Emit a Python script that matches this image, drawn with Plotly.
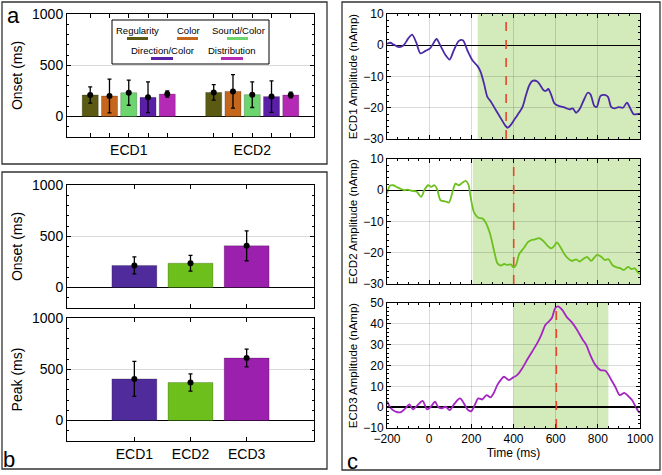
import plotly.graph_objects as go

W, H = 662, 475
FONT = "Liberation Sans, Arial, sans-serif"

# ---------------- data ----------------
a_groups = ["ECD1", "ECD2"]
a_conditions = ["Regularity", "Color", "Sound/Color", "Direction/Color", "Distribution"]
a_colors = ["#5b5a13", "#c4661b", "#6dd56d", "#5a1fa6", "#b52ab5"]
a_onset_ecd1 = [210, 200, 232, 187, 219]
a_err_ecd1 = [80, 165, 122, 150, 30]
a_onset_ecd2 = [235, 245, 213, 194, 210]
a_err_ecd2 = [75, 163, 125, 153, 28]

b_components = ["ECD1", "ECD2", "ECD3"]
b_colors = ["#4f2b9b", "#6dc01b", "#9b20ad"]
b_onset = [215, 237, 407]
b_onset_err = [83, 77, 146]
b_peak = [406, 371, 610]
b_peak_err = [171, 84, 87]

c_time_ecd1 = [-200, -184, -168, -144, -121, -100, -81, -62, -41, -17, 3, 19, 35, 54, 78,
               97, 117, 141, 160, 181, 205, 229, 244, 260, 276, 292, 316, 340, 359, 371,
               387, 403, 419, 443, 459, 475, 490, 511, 527, 543, 554, 565, 578, 594, 617,
               641, 665, 681, 697, 713, 733, 752, 765, 784, 795, 813, 832, 848, 863, 879,
               898, 919, 938, 954, 970, 990, 1000]
c_amp_ecd1 = [0.5, 0.8, 0.2, -0.6, 0, 2.1, 3.4, 1, -2.6, -1.8, -1.1, 0.5, 2, -0.2, -3.2,
              -4.6, -1.6, 1.4, 1.6, -1.6, -4.8, -6.6, -8.5, -12.2, -16.5, -18, -20.7, -23.4, -25.5, -26.4,
              -25.5, -23.9, -22.3, -19.7, -16, -12.8, -11.4, -11.5, -12.8, -14.4, -14.6, -14.0, -15.7, -18.6, -19.5,
              -19.9, -20.5, -20.2, -21.6, -20.5, -17.6, -15.2, -15.7, -19.5, -19.7, -16.2, -15.9, -16.5, -19.7, -20.2,
              -19.8, -20, -18.4, -20.2, -22.1, -22, -21.9]

c_time_ecd2 = [-200, -187, -171, -156, -137, -117, -102, -81, -60, -38, -21, -5, 10, 25, 38,
               54, 78, 94, 110, 125, 141, 157, 173, 186, 197, 213, 233, 252, 268, 289,
               308, 324, 340, 356, 371, 387, 400, 411, 427, 451, 467, 483, 502, 522, 541,
               562, 578, 594, 606, 625, 641, 657, 676, 697, 713, 729, 749, 768, 784, 797,
               816, 832, 851, 871, 890, 906, 924, 943, 959, 975, 990, 1000]
c_amp_ecd2 = [-1.1, 1.4, 1.6, 1.1, 0.5, 0, 0.2, -0.2, -0.4, -2.1, 0.3, 1.6, 1.1, 1.6, 0.3,
              -3.2, -3.6, -3.9, -0.7, 2.1, 1.6, 2.4, 3, 1.9, -2.3, -7.1, -8.8, -9, -10.3, -14,
              -19.4, -23.4, -24.1, -23.6, -23.9, -23.7, -24.7, -24.1, -20.4, -18.3, -16.7, -16, -15.7, -15.3, -16.2,
              -17.8, -18.6, -17.8, -16.7, -18.5, -20.4, -21.7, -22.6, -22.1, -22.8, -22.1, -21.3, -22.6, -21.5, -20.7,
              -21.3, -22.3, -22.1, -24.1, -24.7, -24.9, -25.5, -24.5, -25.2, -25, -26.3, -26.8]

c_time_ecd3 = [-200, -181, -156, -134, -113, -94, -77, -55, -31, -10, 8, 28, 42, 60, 78,
               97, 121, 146, 165, 184, 200, 216, 233, 252, 272, 291, 307, 323, 339, 355,
               378, 399, 417, 441, 464, 488, 512, 532, 551, 567, 582, 598, 611, 630, 654,
               677, 701, 727, 745, 764, 788, 812, 836, 860, 884, 904, 926, 947, 962, 978,
               994, 1000]
c_amp_ecd3 = [2.9, -0.6, -2.3, -2.4, -0.6, 1.3, -1.1, 1, 3, -1.1, 0.2, 2.6, 0.2, -0.6, 0.2,
              -1.4, 1.8, 4.2, 1.8, -1.4, -1.9, 1, 4.2, 3.7, 5.8, 4.7, 6.9, 10.6, 13, 14.6,
              13, 14.3, 15.4, 18.6, 22.6, 26.6, 30.6, 34.7, 39.5, 41.1, 42.8, 47.6, 48.4, 46.8, 43.1,
              40.7, 37.2, 32.6, 29.9, 25.1, 20.3, 17.8, 17.5, 13.8, 9.5, 5.8, 6.9, 5, 3.4, 0.5,
              -2.3, -2.7]

c_line_colors = ["#4b2aa6", "#6cc11c", "#a524c4"]
c_window_start = [230, 207, 400]
c_window_end = [1000, 1000, 850]
c_peak_time = [365, 401, 603]
c_yranges = [[-30, 10], [-30, 10], [-10, 50]]
c_ytitles = ["ECD1 Amplitude (nAmp)", "ECD2 Amplitude (nAmp)", "ECD3 Amplitude (nAmp)"]

# ---------------- helpers ----------------
def dx(x0, x1):
    return [x0 / W, x1 / W]

def dy(y0, y1):  # y0 top px, y1 bottom px
    return [1 - y1 / H, 1 - y0 / H]

fig = go.Figure()

# ---------------- panel a ----------------
offset = 0.156
bw = 0.13
a_vals = [a_onset_ecd1, a_onset_ecd2]
a_errs = [a_err_ecd1, a_err_ecd2]
a_tickvals, a_ticktext = [], []
for gi, g in enumerate(a_groups):
    for ci in range(len(a_conditions)):
        xpos = (gi + 1) + (ci - 2) * offset
        a_tickvals.append(xpos)
        a_ticktext.append(g if ci == 2 else "")
for ci, cond in enumerate(a_conditions):
    xs = [(gi + 1) + (ci - 2) * offset for gi in range(len(a_groups))]
    ys = [a_vals[gi][ci] for gi in range(len(a_groups))]
    es = [a_errs[gi][ci] for gi in range(len(a_groups))]
    fig.add_trace(go.Bar(x=xs, y=ys, width=bw, marker=dict(color=a_colors[ci],
                         line=dict(color="rgba(0,0,0,0.35)", width=0.6)),
                         xaxis="x", yaxis="y", showlegend=False))
    fig.add_trace(go.Scatter(x=xs, y=ys, mode="markers",
                             marker=dict(color="black", size=6),
                             error_y=dict(type="data", array=es, color="black", thickness=1.3, width=2),
                             xaxis="x", yaxis="y", showlegend=False))

# ---------------- panel b ----------------
bx = [1, 2, 3]
for (vals, errs, xa, ya) in [(b_onset, b_onset_err, "x2", "y2"), (b_peak, b_peak_err, "x3", "y3")]:
    fig.add_trace(go.Bar(x=bx, y=vals, width=0.8,
                         marker=dict(color=b_colors, line=dict(color="rgba(0,0,0,0.35)", width=0.6)),
                         xaxis=xa, yaxis=ya, showlegend=False))
    fig.add_trace(go.Scatter(x=bx, y=vals, mode="markers",
                             marker=dict(color="black", size=6),
                             error_y=dict(type="data", array=errs, color="black", thickness=1.3, width=2),
                             xaxis=xa, yaxis=ya, showlegend=False))

# ---------------- panel c ----------------
c_series = [(c_time_ecd1, c_amp_ecd1), (c_time_ecd2, c_amp_ecd2), (c_time_ecd3, c_amp_ecd3)]
shapes = []
for i, (t, v) in enumerate(c_series):
    xa, ya = "x%d" % (i + 4), "y%d" % (i + 4)
    fig.add_trace(go.Scatter(x=t, y=v, mode="lines", line=dict(color=c_line_colors[i], width=1.8, shape="spline", smoothing=0.8),
                             xaxis=xa, yaxis=ya, showlegend=False))
    shapes.append(dict(type="rect", xref=xa, yref=ya + " domain", x0=c_window_start[i], x1=c_window_end[i],
                       y0=0, y1=1, fillcolor="#d3eabb", line=dict(width=0), layer="below"))
    shapes.append(dict(type="line", xref=xa, yref=ya + " domain", x0=c_peak_time[i], x1=c_peak_time[i],
                       y0=0, y1=1, line=dict(color="#e8452c", width=1.6, dash="dash"), layer="above"))

# ---------------- axes ----------------
tickcommon = dict(showline=True, linecolor="black", linewidth=1, mirror="allticks", ticks="inside",
                  ticklen=4, tickcolor="black", automargin=False)

ab_y = dict(tickcommon, range=[-200, 1000], tickvals=[0, 500, 1000], tickfont=dict(size=14, color="black"),
            showgrid=True, gridcolor="#dadada", zeroline=True, zerolinecolor="black", zerolinewidth=1.5,
            minor=dict(ticks="inside", dtick=100, ticklen=2, tickcolor="black", showgrid=False))

layout_axes = {}
layout_axes["xaxis"] = dict(tickcommon, domain=dx(67, 314), range=[0.5, 2.5], tickvals=a_tickvals,
                            ticktext=a_ticktext, tickfont=dict(size=14, color="black"), showgrid=False,
                            zeroline=False, anchor="y")
layout_axes["yaxis"] = dict(ab_y, domain=dy(14, 137), anchor="x", title=dict(text="Onset (ms)", font=dict(size=14), standoff=6))
layout_axes["xaxis2"] = dict(tickcommon, domain=dx(67, 314), range=[-0.2, 4.2], tickvals=bx,
                             ticktext=["", "", ""], showgrid=False, zeroline=False, anchor="y2")
layout_axes["yaxis2"] = dict(ab_y, domain=dy(185, 308), anchor="x2", title=dict(text="Onset (ms)", font=dict(size=14), standoff=6))
layout_axes["xaxis3"] = dict(tickcommon, domain=dx(67, 314), range=[-0.2, 4.2], tickvals=bx,
                             ticktext=b_components, tickfont=dict(size=14, color="black"),
                             showgrid=False, zeroline=False, anchor="y3")
layout_axes["yaxis3"] = dict(ab_y, domain=dy(318, 441), anchor="x3", title=dict(text="Peak (ms)", font=dict(size=14), standoff=6))

c_ydoms = [dy(14, 139), dy(159, 284), dy(303, 428)]
for i in range(3):
    n = i + 4
    last = (i == 2)
    layout_axes["xaxis%d" % n] = dict(tickcommon, domain=dx(387, 640), range=[-200, 1000], dtick=200, tick0=0,
                                      showticklabels=last, tickfont=dict(size=12, color="black"),
                                      showgrid=True, gridcolor="rgba(0,0,0,0.14)", zeroline=False,
                                      minor=dict(ticks="inside", dtick=50, ticklen=2, tickcolor="black", showgrid=False),
                                      anchor="y%d" % n,
                                      title=dict(text="Time (ms)" if last else "", font=dict(size=12, color="black"), standoff=2))
    layout_axes["yaxis%d" % n] = dict(tickcommon, domain=c_ydoms[i], range=c_yranges[i], dtick=10,
                                      tickfont=dict(size=12, color="black"),
                                      showgrid=True, gridcolor="rgba(0,0,0,0.14)",
                                      zeroline=True, zerolinecolor="black", zerolinewidth=1.5,
                                      minor=dict(ticks="inside", dtick=2, ticklen=2, tickcolor="black", showgrid=False),
                                      anchor="x%d" % n,
                                      title=dict(text=c_ytitles[i], font=dict(size=11.5, color="black"), standoff=3))

# ---------------- panel frames ----------------
def prect(x0, y0, x1, y1, **kw):
    d = dict(type="rect", xref="paper", yref="paper", x0=x0 / W, x1=x1 / W, y0=1 - y1 / H, y1=1 - y0 / H)
    d.update(kw)
    return d

shapes.append(prect(2, 2, 327, 164, line=dict(color="#333333", width=1.3)))
shapes.append(prect(2, 172, 327, 469, line=dict(color="#333333", width=1.3)))
shapes.append(prect(342, 2, 660, 470, line=dict(color="#333333", width=1.3)))

# legend box for panel a
shapes.append(prect(112, 20, 269, 64, line=dict(color="black", width=1), fillcolor="white", layer="above"))
annotations = []
leg_text_pos = [(137, 30.5), (188, 30.5), (238, 30.5), (162, 50.5), (232, 50.5)]
leg_line_pos = [(127, 148, 38.5), (177, 198, 38.5), (227, 248, 38.5), (151, 173, 58.5), (221, 243, 58.5)]
for ci, cond in enumerate(a_conditions):
    tx, ty = leg_text_pos[ci]
    annotations.append(dict(text=cond, x=tx / W, y=1 - ty / H, xref="paper", yref="paper",
                            showarrow=False, font=dict(size=9.5, color="black"), xanchor="center", yanchor="middle"))
    lx0, lx1, ly = leg_line_pos[ci]
    shapes.append(dict(type="line", xref="paper", yref="paper", x0=lx0 / W, x1=lx1 / W,
                       y0=1 - ly / H, y1=1 - ly / H, line=dict(color=a_colors[ci], width=3), layer="above"))

# panel letters
for lab, x, y in [("a", 13, 16), ("b", 9, 459), ("c", 352, 461)]:
    annotations.append(dict(text=lab, x=x / W, y=1 - y / H, xref="paper", yref="paper", showarrow=False,
                            font=dict(size=22, color="black"), xanchor="center", yanchor="middle"))

fig.update_layout(width=W, height=H, margin=dict(l=0, r=0, t=0, b=0),
                  paper_bgcolor="white", plot_bgcolor="white",
                  font=dict(family=FONT, color="black"), hovermode=False,
                  barmode="overlay", shapes=shapes, annotations=annotations, **layout_axes)

fig.write_html("out.html", config={"displayModeBar": False, "staticPlot": True})

# remove the browser's default page margin so the figure sits at the window origin
with open("out.html", "r", encoding="utf-8") as f:
    html = f.read()
html = html.replace("<head>", "<head><style>html,body{margin:0;padding:0;overflow:hidden;}</style>", 1)
with open("out.html", "w", encoding="utf-8") as f:
    f.write(html)
